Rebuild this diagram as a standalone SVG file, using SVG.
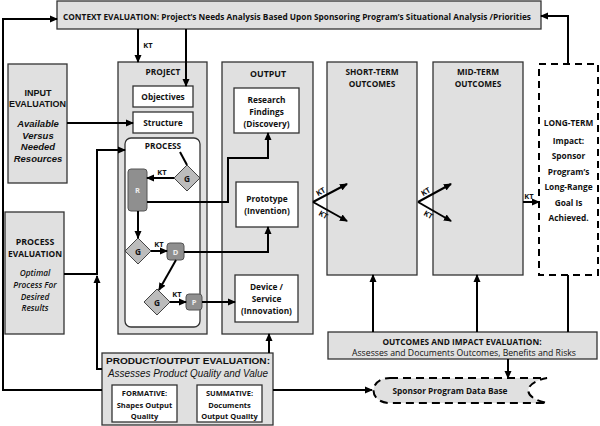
<svg xmlns="http://www.w3.org/2000/svg" width="600" height="426" viewBox="0 0 600 426">
<defs>
<marker id="ah" markerWidth="8" markerHeight="8" refX="7" refY="4" orient="auto" markerUnits="userSpaceOnUse">
<path d="M0,0.5 L8,4 L0,7.5 Z" fill="#000"/>
</marker>
<style>
.box{fill:#e0e0e0;stroke:#333;stroke-width:1.3}
.wbox{fill:#fff;stroke:#333;stroke-width:1.3}
.dk{fill:#8f8f8f;stroke:#555;stroke-width:1}
.dia{fill:#bcbcbc;stroke:#444;stroke-width:1}
.c{fill:none;stroke:#000;stroke-width:2}
.ca{fill:none;stroke:#000;stroke-width:2;marker-end:url(#ah)}
.t{font-family:"Open Sans","Liberation Sans",sans-serif;font-weight:bold;font-size:8.3px;fill:#111;text-anchor:middle}
.h{font-family:"Open Sans","Liberation Sans",sans-serif;font-weight:bold;font-size:8.8px;fill:#111;text-anchor:middle}
.a{font-family:"Liberation Sans",Arial,sans-serif;font-weight:bold;font-size:9px;fill:#111;text-anchor:middle}
.ai{font-family:"Liberation Sans",Arial,sans-serif;font-weight:bold;font-style:italic;font-size:9.5px;fill:#111;text-anchor:middle}
.i{font-family:"Open Sans","Liberation Sans",sans-serif;font-style:italic;font-weight:600;font-size:8.3px;fill:#111;text-anchor:middle}
.w{font-family:"Open Sans","Liberation Sans",sans-serif;font-weight:bold;font-size:7.5px;fill:#eee;text-anchor:middle}
.k{font-family:"Open Sans","Liberation Sans",sans-serif;font-weight:bold;font-size:7.5px;fill:#111;text-anchor:middle}
</style>
</defs>

<g id="context">
<rect class="box" x="57" y="1" width="484" height="28"/>
<text class="t" x="297" y="20" font-size="9" textLength="468" lengthAdjust="spacingAndGlyphs">CONTEXT EVALUATION: Project’s Needs Analysis Based Upon Sponsoring Program’s Situational Analysis /Priorities</text>
</g>

<g id="input-eval">
<rect class="box" x="8" y="64" width="59" height="119"/>
<text class="a" x="38" y="96">INPUT</text>
<text class="a" x="37.5" y="107" textLength="57" lengthAdjust="spacingAndGlyphs">EVALUATION</text>
<text class="ai" x="38" y="127">Available</text>
<text class="ai" x="38" y="139">Versus</text>
<text class="ai" x="38" y="150">Needed</text>
<text class="ai" x="38" y="162">Resources</text>
</g>

<g id="process-eval">
<rect class="box" x="5" y="212" width="59" height="122"/>
<text class="h" x="35" y="245">PROCESS</text>
<text class="h" x="35" y="257" textLength="54" lengthAdjust="spacingAndGlyphs">EVALUATION</text>
<text class="i" x="35" y="276">Optimal</text>
<text class="i" x="35" y="288">Process For</text>
<text class="i" x="35" y="300">Desired</text>
<text class="i" x="35" y="311">Results</text>
</g>

<g id="project">
<rect class="box" x="118" y="62" width="89" height="272"/>
<text class="t" x="163" y="75">PROJECT</text>
</g>
<g id="objectives">
<rect class="wbox" x="133" y="86" width="60" height="21"/>
<text class="t" x="163" y="100">Objectives</text>
</g>
<g id="structure">
<rect class="wbox" x="133" y="112" width="60" height="21"/>
<text class="t" x="163" y="126">Structure</text>
</g>
<g id="process">
<rect x="125" y="138" width="75" height="189" rx="6" fill="#fff" stroke="#333" stroke-width="1.3"/>
<text class="t" x="163" y="149">PROCESS</text>
</g>
<g id="g1">
<path class="dia" d="M187,165 L200,178 L187,191 L174,178 Z"/>
<text class="t" x="187" y="181.5">G</text>
</g>
<g id="r">
<rect class="dk" x="128" y="169" width="19" height="42" rx="3"/>
<text class="w" x="137.5" y="193">R</text>
</g>
<g id="g2">
<path class="dia" d="M138,238 L151,251 L138,264 L125,251 Z"/>
<text class="t" x="138" y="254.5">G</text>
</g>
<g id="d">
<rect class="dk" x="167" y="243" width="17" height="17" rx="3"/>
<text class="w" x="175.5" y="254.5">D</text>
</g>
<g id="g3">
<path class="dia" d="M157,289 L170,302 L157,315 L144,302 Z"/>
<text class="t" x="157" y="305.5">G</text>
</g>
<g id="p">
<rect class="dk" x="186" y="294" width="16" height="16" rx="3"/>
<text class="w" x="194" y="305">P</text>
</g>

<g id="output">
<rect class="box" x="222" y="62" width="91" height="272"/>
<text class="h" x="268" y="77" font-size="9.5">OUTPUT</text>
</g>
<g id="research">
<rect class="wbox" x="234" y="88" width="65" height="45"/>
<text class="t" x="266.5" y="103">Research</text>
<text class="t" x="266.5" y="115">Findings</text>
<text class="t" x="266.5" y="127">(Discovery)</text>
</g>
<g id="prototype">
<rect class="wbox" x="236" y="182" width="62" height="45"/>
<text class="t" x="267" y="202">Prototype</text>
<text class="t" x="267" y="214">(Invention)</text>
</g>
<g id="device">
<rect class="wbox" x="235" y="275" width="63" height="47"/>
<text class="t" x="266.5" y="290">Device /</text>
<text class="t" x="266.5" y="302">Service</text>
<text class="t" x="266.5" y="314">(Innovation)</text>
</g>

<g id="short-term">
<rect class="box" x="327" y="62" width="90" height="213"/>
<text class="t" x="372" y="75">SHORT-TERM</text>
<text class="t" x="372" y="87">OUTCOMES</text>
</g>
<g id="mid-term">
<rect class="box" x="433" y="62" width="90" height="213"/>
<text class="t" x="478" y="75">MID-TERM</text>
<text class="t" x="478" y="87">OUTCOMES</text>
</g>
<g id="long-term">
<rect x="539" y="64" width="59" height="211" fill="#fff" stroke="#000" stroke-width="2" stroke-dasharray="7 5"/>
<text class="t" x="568.5" y="126">LONG-TERM</text>
<text class="t" x="568.5" y="144">Impact:</text>
<text class="t" x="568.5" y="159">Sponsor</text>
<text class="t" x="568.5" y="175">Program’s</text>
<text class="t" x="568.5" y="190">Long-Range</text>
<text class="t" x="568.5" y="206">Goal Is</text>
<text class="t" x="568.5" y="221">Achieved.</text>
</g>

<g id="outcomes-eval">
<rect class="box" x="328" y="332" width="269" height="27"/>
<text class="t" x="462" y="345">OUTCOMES AND IMPACT EVALUATION:</text>
<text x="464" y="356" font-family="'Open Sans','Liberation Sans',sans-serif" font-size="8.5" fill="#111" text-anchor="middle" textLength="224" lengthAdjust="spacingAndGlyphs">Assesses and Documents Outcomes, Benefits and Risks</text>
</g>

<g id="product-eval">
<rect class="box" x="102" y="353" width="171" height="72"/>
<text class="a" x="188" y="364" font-size="11" textLength="164" lengthAdjust="spacingAndGlyphs">PRODUCT/OUTPUT EVALUATION:</text>
<text x="188" y="377" font-family="'Liberation Sans',Arial,sans-serif" font-style="italic" font-size="10.5" fill="#111" text-anchor="middle" textLength="160" lengthAdjust="spacingAndGlyphs">Assesses Product Quality and Value</text>
</g>
<g id="formative">
<rect class="wbox" x="112" y="385" width="65" height="37"/>
<text class="k" x="144.5" y="395.5" font-size="7.8">FORMATIVE:</text>
<text class="k" x="144.5" y="407.5" font-size="7.8">Shapes Output</text>
<text class="k" x="144.5" y="419" font-size="7.8">Quality</text>
</g>
<g id="summative">
<rect class="wbox" x="197" y="385" width="65" height="37"/>
<text class="k" x="229.5" y="395.5" font-size="7.8">SUMMATIVE:</text>
<text class="k" x="229.5" y="407.5" font-size="7.8">Documents</text>
<text class="k" x="229.5" y="419" font-size="7.8">Output Quality</text>
</g>

<g id="database">
<path d="M390,378 H547 C522,383 522,398 547,403 H390 C368,403 368,378 390,378 Z" fill="#e0e0e0" stroke="#000" stroke-width="2" stroke-dasharray="8 5"/>
<text class="t" x="450" y="394">Sponsor Program Data Base</text>
</g>

<g id="connectors">
<path class="ca" d="M102,390 H3 V19 H57"/>
<path class="ca" d="M568,64 V16 H541"/>
<path class="ca" d="M138,29 V62"/>
<text class="k" x="148" y="48">KT</text>
<path class="ca" d="M186,29 V86"/>
<path class="ca" d="M67,123 H133"/>
<path class="ca" d="M64,274 H97 V150 H125"/>
<path class="ca" d="M102,369 H97 V276"/>
<path class="c" d="M180,152 L187,165"/>
<path class="ca" d="M174,178 H147"/>
<text class="k" x="162" y="175">KT</text>
<path class="ca" d="M138,211 V238"/>
<path class="ca" d="M151,251 H167"/>
<text class="k" x="159" y="247">KT</text>
<path class="ca" d="M176,260 L159,290"/>
<path class="ca" d="M170,302 H186"/>
<text class="k" x="177" y="297">KT</text>
<path class="ca" d="M147,202 H228 V158 H268 V133"/>
<path class="ca" d="M184,252 H268 V227"/>
<path class="ca" d="M202,302 H235"/>
<path class="ca" d="M269,353 V334"/>
<path class="ca" d="M313,202 L347,184"/>
<path class="ca" d="M313,202 L347,221"/>
<text class="k" transform="translate(322,194) rotate(-30)">KT</text>
<text class="k" transform="translate(322,217) rotate(30)">KT</text>
<path class="ca" d="M418,202 L451,184"/>
<path class="ca" d="M418,202 L451,221"/>
<text class="k" transform="translate(427,194) rotate(-30)">KT</text>
<text class="k" transform="translate(427,217) rotate(30)">KT</text>
<path class="ca" d="M523,202 H539"/>
<text class="k" x="529" y="199">KT</text>
<path class="ca" d="M373,332 V275"/>
<path class="ca" d="M477,332 V275"/>
<path class="c" d="M568,275 V332"/>
<path class="ca" d="M508,359 V378"/>
<path class="ca" d="M273,390 H372"/>
</g>
</svg>
